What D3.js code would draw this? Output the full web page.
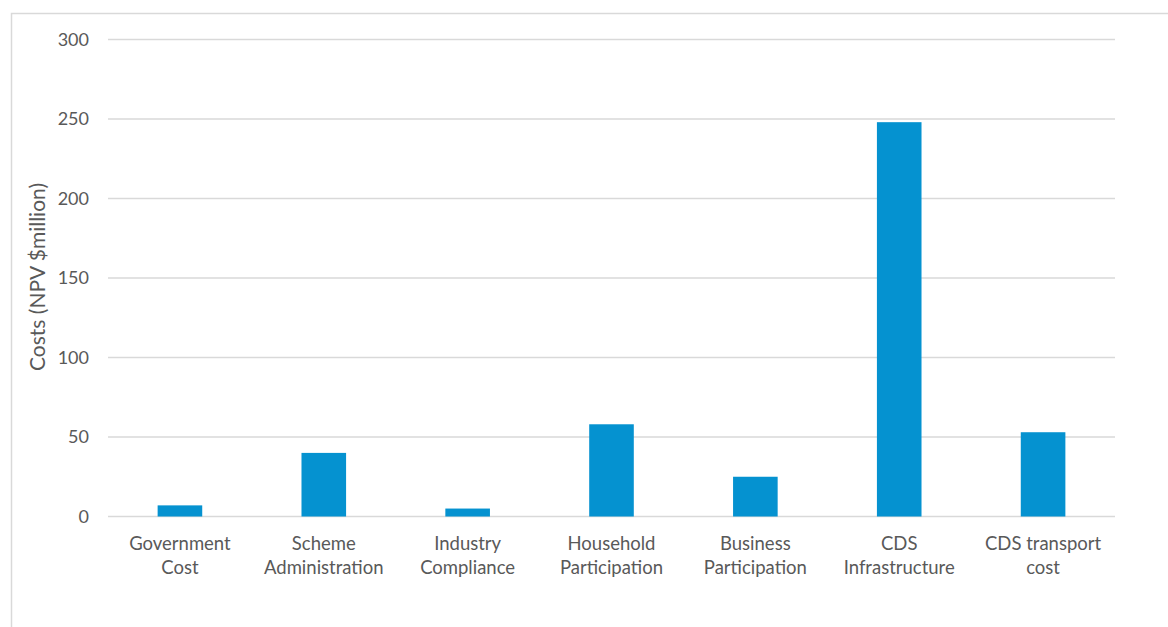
<!DOCTYPE html>
<html>
<head>
<meta charset="utf-8">
<script src="https://cdn.jsdelivr.net/npm/d3@7"></script>
<style>
  body { margin: 0; background: #fff; }
  text { font-family: Lato, "Open Sans", sans-serif; fill: #595959; }
</style>
</head>
<body>
<div class="content"></div>
<script>
////////// data /////////
var categories = [
  ['Government', 'Cost'],
  ['Scheme', 'Administration'],
  ['Industry', 'Compliance'],
  ['Household', 'Participation'],
  ['Business', 'Participation'],
  ['CDS', 'Infrastructure'],
  ['CDS transport', 'cost']
];
var costs = [7, 40, 5, 58, 25, 248, 53];
var yTicks = [0, 50, 100, 150, 200, 250, 300];

var width = 1168, height = 627;
var plotLeft = 108, plotRight = 1115, plotTop = 39.5, plotBottom = 516.5;

var svg = d3.select('.content').append('svg')
  .attr('width', width)
  .attr('height', height);

// chart frame
svg.append('rect')
  .attr('x', 11.5)
  .attr('y', 13.5)
  .attr('width', 1200)
  .attr('height', 700)
  .style('fill', 'none')
  .style('stroke', '#d9d9d9')
  .style('stroke-width', 1.5);

var x = d3.scaleBand()
  .domain(d3.range(categories.length))
  .range([plotLeft, plotRight])
  .paddingInner(0.69)
  .paddingOuter(0.345);

var y = d3.scaleLinear()
  .domain([0, 300])
  .range([plotBottom, plotTop]);

// gridlines
svg.append('g')
  .selectAll('line')
  .data(yTicks)
  .join('line')
  .attr('x1', plotLeft)
  .attr('x2', plotRight)
  .attr('y1', d => y(d))
  .attr('y2', d => y(d))
  .style('stroke', '#d9d9d9')
  .style('stroke-width', 1.5);

// y axis labels
var yAxis = svg.append('g')
  .attr('transform', 'translate(' + (plotLeft - 19) + ',0)')
  .call(d3.axisLeft(y).tickValues(yTicks).tickSize(0).tickPadding(0));
yAxis.select('.domain').remove();
yAxis.selectAll('text')
  .style('font-size', '18px')
  .style('font-family', 'Lato, "Open Sans", sans-serif')
  .attr('fill', '#595959');

// bars
svg.append('g')
  .selectAll('rect')
  .data(costs)
  .join('rect')
  .attr('x', (d, i) => x(i))
  .attr('width', x.bandwidth())
  .attr('y', d => y(d))
  .attr('height', d => y(0) - y(d))
  .style('fill', '#0592d0');

// category labels
var catG = svg.append('g')
  .selectAll('text')
  .data(categories)
  .join('text')
  .attr('text-anchor', 'middle')
  .style('font-size', '18.5px')
  .attr('x', (d, i) => x(i) + x.bandwidth() / 2)
  .attr('y', 550);
catG.selectAll('tspan')
  .data(d => d)
  .join('tspan')
  .attr('x', function() { return d3.select(this.parentNode).attr('x'); })
  .attr('dy', (d, i) => i === 0 ? 0 : 24)
  .text(d => d);

// y axis title
svg.append('text')
  .attr('transform', 'translate(45,277) rotate(-90)')
  .attr('text-anchor', 'middle')
  .style('font-size', '21px')
  .text('Costs (NPV $million)');
</script>
</body>
</html>
